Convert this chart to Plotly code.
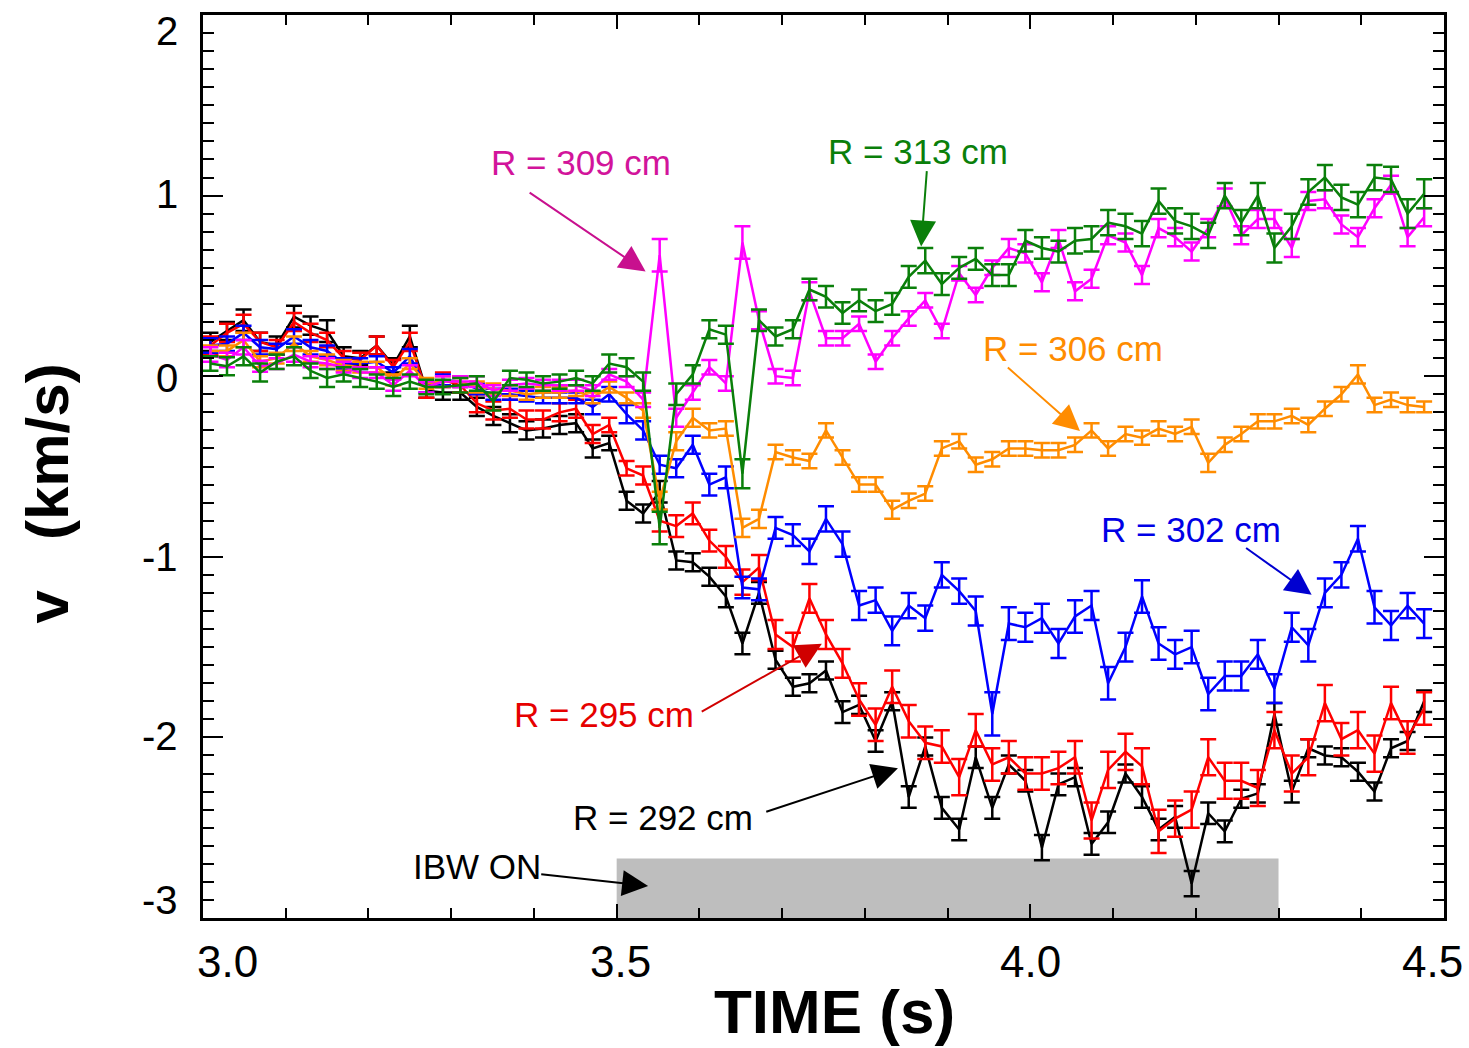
import plotly.graph_objects as go

# ---------------- data ----------------
time_s = [3.009, 3.029, 3.049, 3.069, 3.089, 3.110, 3.130, 3.150, 3.170, 3.190,
          3.210, 3.230, 3.250, 3.270, 3.290, 3.311, 3.331, 3.351, 3.371, 3.391,
          3.411, 3.431, 3.451, 3.471, 3.491, 3.512, 3.532, 3.552, 3.572, 3.592,
          3.612, 3.632, 3.652, 3.672, 3.692, 3.713, 3.733, 3.753, 3.773, 3.793,
          3.813, 3.833, 3.853, 3.873, 3.893, 3.914, 3.934, 3.954, 3.974, 3.994,
          4.014, 4.034, 4.054, 4.074, 4.094, 4.115, 4.135, 4.155, 4.175, 4.195,
          4.215, 4.235, 4.255, 4.275, 4.295, 4.316, 4.336, 4.356, 4.376, 4.396,
          4.416, 4.436, 4.456, 4.476]

v_292 = [0.19, 0.25, 0.31, 0.19, 0.17, 0.33, 0.28, 0.25, 0.11, 0.10, 0.17, 0.06, 0.22, -0.08,
         -0.09, -0.09, -0.17, -0.22, -0.26, -0.30, -0.29, -0.27, -0.26, -0.40, -0.37, -0.69, -0.76, -0.64,
         -1.02, -1.03, -1.11, -1.22, -1.48, -1.20, -1.57,
         -1.72, -1.70, -1.63, -1.86, -1.82, -2.02, -1.80, -2.33, -2.05, -2.39, -2.51, -2.11, -2.39, -2.15,
         -2.24, -2.61, -2.26, -2.22, -2.59,
         -2.47, -2.20, -2.33, -2.51, -2.44, -2.81, -2.42, -2.52, -2.34, -2.31, -1.87, -2.30, -2.06, -2.10,
         -2.11, -2.19, -2.30, -2.06, -2.02, -1.80]
e_292 = [0.05, 0.05, 0.06, 0.05, 0.05, 0.06, 0.05, 0.06, 0.05, 0.04, 0.05, 0.04, 0.06, 0.04,
         0.04, 0.04, 0.05, 0.05, 0.05, 0.05, 0.05, 0.05, 0.05, 0.05, 0.04, 0.05, 0.05, 0.06,
         0.05, 0.05, 0.05, 0.06, 0.06, 0.06, 0.05,
         0.05, 0.05, 0.05, 0.06, 0.05, 0.06, 0.05, 0.06, 0.05, 0.06, 0.06, 0.06, 0.06, 0.05, 0.06, 0.07,
         0.06, 0.05, 0.06,
         0.06, 0.05, 0.06, 0.06, 0.06, 0.07, 0.06, 0.06, 0.05, 0.05, 0.06, 0.06, 0.05, 0.05, 0.05, 0.05,
         0.05, 0.05, 0.05, 0.06]

v_295 = [0.17, 0.24, 0.29, 0.19, 0.16, 0.30, 0.24, 0.20, 0.10, 0.09, 0.17, 0.05, 0.19, -0.08,
         -0.02, -0.05, -0.15, -0.19, -0.18, -0.24, -0.24, -0.20, -0.18, -0.32, -0.27, -0.51, -0.55, -0.80,
         -0.83, -0.76, -0.91, -1.00, -1.14, -1.06, -1.43,
         -1.50, -1.23, -1.43, -1.59, -1.79, -1.93, -1.72, -1.91, -2.03, -2.05, -2.22, -1.96, -2.15, -2.11,
         -2.20, -2.20, -2.17, -2.11, -2.46,
         -2.18, -2.08, -2.16, -2.52, -2.45, -2.40, -2.11, -2.24, -2.24, -2.28, -1.96, -2.20, -2.11, -1.81,
         -2.01, -1.96, -2.09, -1.81, -2.00, -1.84]
e_295 = [0.05, 0.05, 0.05, 0.05, 0.04, 0.05, 0.05, 0.04, 0.04, 0.04, 0.05, 0.04, 0.05, 0.04,
         0.04, 0.04, 0.05, 0.05, 0.05, 0.05, 0.05, 0.05, 0.05, 0.05, 0.04, 0.04, 0.05, 0.06,
         0.06, 0.06, 0.06, 0.06, 0.07, 0.07, 0.08,
         0.08, 0.08, 0.08, 0.08, 0.09, 0.09, 0.09, 0.09, 0.09, 0.09, 0.10, 0.09, 0.09, 0.09, 0.09, 0.09,
         0.09, 0.09, 0.10,
         0.10, 0.10, 0.10, 0.12, 0.10, 0.10, 0.10, 0.10, 0.10, 0.10, 0.10, 0.10, 0.10, 0.10, 0.09, 0.10,
         0.10, 0.09, 0.09, 0.09]

v_302 = [0.17, 0.18, 0.24, 0.16, 0.15, 0.22, 0.16, 0.14, 0.07, 0.07, 0.08, 0.02, 0.11, -0.06,
         -0.02, -0.03, -0.07, -0.10, -0.10, -0.11, -0.12, -0.12, -0.12, -0.17, -0.10, -0.21, -0.30, -0.49,
         -0.51, -0.38, -0.60, -0.56, -1.17, -1.18, -0.84,
         -0.88, -0.97, -0.79, -0.93, -1.27, -1.24, -1.41, -1.27, -1.34, -1.10, -1.19, -1.30, -1.87, -1.37,
         -1.39, -1.34, -1.48, -1.33, -1.27,
         -1.70, -1.50, -1.22, -1.48, -1.54, -1.50, -1.76, -1.66, -1.66, -1.54, -1.73, -1.39, -1.49, -1.20,
         -1.10, -0.90, -1.28, -1.38, -1.27, -1.37]
e_302 = [0.04, 0.04, 0.04, 0.04, 0.03, 0.04, 0.04, 0.03, 0.03, 0.03, 0.03, 0.03, 0.04, 0.03,
         0.03, 0.03, 0.03, 0.03, 0.03, 0.03, 0.03, 0.03, 0.03, 0.04, 0.04, 0.05, 0.05, 0.05,
         0.05, 0.05, 0.06, 0.06, 0.06, 0.06, 0.06,
         0.06, 0.07, 0.07, 0.07, 0.08, 0.07, 0.08, 0.07, 0.07, 0.07, 0.07, 0.08, 0.12, 0.09, 0.08, 0.08,
         0.08, 0.09, 0.08,
         0.09, 0.08, 0.09, 0.09, 0.08, 0.09, 0.09, 0.08, 0.08, 0.08, 0.08, 0.08, 0.09, 0.08, 0.07, 0.07,
         0.09, 0.08, 0.07, 0.08]

v_306 = [0.14, 0.14, 0.20, 0.08, 0.10, 0.18, 0.11, 0.09, 0.06, 0.05, 0.05, -0.02, 0.07, -0.04,
         -0.03, -0.03, -0.06, -0.07, -0.08, -0.10, -0.09, -0.09, -0.08, -0.12, -0.06, -0.12, -0.19, -0.69,
         -0.36, -0.23, -0.30, -0.29, -0.84, -0.79, -0.42,
         -0.45, -0.47, -0.30, -0.45, -0.60, -0.60, -0.74, -0.69, -0.65, -0.40, -0.36, -0.49, -0.46, -0.40,
         -0.40, -0.41, -0.41, -0.38, -0.30,
         -0.40, -0.32, -0.34, -0.29, -0.32, -0.28, -0.48, -0.38, -0.32, -0.25, -0.25, -0.22, -0.27, -0.18,
         -0.10, 0.01, -0.16, -0.13, -0.16, -0.17]
e_306 = [0.03, 0.03, 0.04, 0.03, 0.03, 0.04, 0.03, 0.03, 0.03, 0.03, 0.03, 0.03, 0.03, 0.03,
         0.03, 0.03, 0.03, 0.03, 0.03, 0.03, 0.03, 0.03, 0.03, 0.03, 0.03, 0.03, 0.04, 0.05,
         0.05, 0.05, 0.04, 0.04, 0.05, 0.05, 0.04,
         0.04, 0.04, 0.04, 0.04, 0.04, 0.04, 0.05, 0.04, 0.04, 0.04, 0.04, 0.04, 0.04, 0.04, 0.04, 0.04,
         0.04, 0.04, 0.04,
         0.04, 0.04, 0.04, 0.04, 0.04, 0.04, 0.05, 0.04, 0.04, 0.04, 0.04, 0.04, 0.04, 0.04, 0.04, 0.05,
         0.04, 0.04, 0.04, 0.03]

v_309 = [0.12, 0.09, 0.16, 0.055, 0.07, 0.12, 0.08, 0.07, 0.05, 0.02, 0.02, -0.05, 0.03, -0.06,
         -0.03, -0.03, -0.03, -0.08, -0.05, -0.04, -0.05, -0.05, -0.05, -0.08, 0.01, -0.03, -0.13, 0.67,
         -0.23, -0.09, 0.05, -0.04, 0.74, 0.31, 0.00,
         -0.01, 0.47, 0.21, 0.21, 0.29, 0.08, 0.21, 0.32, 0.42, 0.25, 0.57, 0.45, 0.60, 0.71,
         0.68, 0.52, 0.76, 0.47, 0.54,
         0.78, 0.74, 0.56, 0.82, 0.77, 0.69, 0.82, 0.99, 0.78, 0.87, 0.87, 0.71, 0.97, 0.98,
         0.84, 0.77, 0.93, 1.06, 0.77, 0.88]
e_309 = [0.04, 0.04, 0.04, 0.03, 0.03, 0.04, 0.03, 0.03, 0.03, 0.03, 0.03, 0.03, 0.03, 0.03,
         0.03, 0.03, 0.03, 0.03, 0.03, 0.03, 0.03, 0.03, 0.03, 0.03, 0.03, 0.03, 0.04, 0.09,
         0.05, 0.04, 0.04, 0.04, 0.09, 0.05, 0.04,
         0.04, 0.05, 0.04, 0.04, 0.04, 0.04, 0.04, 0.04, 0.04, 0.04, 0.04, 0.04, 0.04, 0.05, 0.05, 0.05,
         0.05, 0.05, 0.05,
         0.05, 0.05, 0.05, 0.05, 0.05, 0.05, 0.05, 0.05, 0.05, 0.05, 0.05, 0.05, 0.05, 0.05, 0.05, 0.05,
         0.05, 0.05, 0.05, 0.05]

v_313 = [0.07, 0.055, 0.11, 0.02, 0.08, 0.11, 0.03, -0.01, 0.01, -0.01, -0.03, -0.06, -0.03, -0.06,
         -0.06, -0.05, -0.04, -0.14, -0.01, -0.02, -0.04, -0.03, -0.01, -0.04, 0.07, 0.05, -0.03, -0.84,
         -0.10, 0.01, 0.26, 0.23, -0.54, 0.31, 0.22,
         0.26, 0.48, 0.44, 0.35, 0.42, 0.36, 0.40, 0.55, 0.64, 0.51, 0.60, 0.65, 0.56, 0.56,
         0.75, 0.71, 0.69, 0.75, 0.76,
         0.85, 0.83, 0.79, 0.97, 0.86, 0.83, 0.78, 1.00, 0.85, 1.00, 0.71, 0.83, 1.02, 1.10,
         0.99, 0.95, 1.10, 1.09, 0.90, 1.01]
e_313 = [0.04, 0.05, 0.05, 0.05, 0.04, 0.05, 0.04, 0.05, 0.04, 0.05, 0.04, 0.05, 0.04, 0.04,
         0.04, 0.04, 0.04, 0.05, 0.04, 0.04, 0.04, 0.04, 0.04, 0.04, 0.05, 0.05, 0.05, 0.09,
         0.06, 0.05, 0.05, 0.05, 0.08, 0.06, 0.05,
         0.05, 0.06, 0.06, 0.06, 0.06, 0.06, 0.06, 0.06, 0.07, 0.06, 0.06, 0.06, 0.06, 0.06, 0.06, 0.06,
         0.06, 0.07, 0.07,
         0.07, 0.07, 0.07, 0.07, 0.07, 0.07, 0.07, 0.07, 0.07, 0.07, 0.08, 0.07, 0.07, 0.07, 0.07, 0.07,
         0.07, 0.07, 0.08, 0.08]

series_names = ["R = 292 cm", "R = 295 cm", "R = 302 cm", "R = 306 cm", "R = 309 cm", "R = 313 cm"]
series_vals = [v_292, v_295, v_302, v_306, v_309, v_313]
series_errs = [e_292, e_295, e_302, e_306, e_309, e_313]
series_colors = ["#000000", "#FF0000", "#0000FF", "#FF8C00", "#FF00FF", "#0A7F0A"]

for vals, errs in zip(series_vals, series_errs):
    assert len(vals) == len(time_s), (len(vals), len(time_s))
    assert len(errs) == len(time_s), (len(errs), len(time_s))

x_tick_vals = [3.0, 3.5, 4.0, 4.5]
x_tick_text = ["3.0", "3.5", "4.0", "4.5"]
x_label_pos = [3.030, 3.505, 4.000, 4.486]
y_tick_vals = [-3, -2, -1, 0, 1, 2]
y_tick_text = ["-3", "-2", "-1", "0", "1", "2"]
y_label_pos = [-2.90, -1.99, -1.00, -0.01, 1.01, 1.91]

ibw_start, ibw_end, ibw_top = 3.50, 4.30, -2.67

# label annotations: text, text position, arrow tail, arrow tip, text colour, arrow colour
labels = [
    ("R = 309 cm", (3.457, 1.182), (3.393, 1.022), (3.535, 0.580), "#D2149B", "#C8108E"),
    ("R = 313 cm", (3.864, 1.243), (3.875, 1.144), (3.868, 0.718), "#0A7F0A", "#0A7F0A"),
    ("R = 306 cm", (4.052, 0.155), (3.971, 0.055), (4.060, -0.304), "#FF8C00", "#FF8C00"),
    ("R = 302 cm", (4.194, -0.851), (4.259, -0.945), (4.340, -1.210), "#0000E6", "#0000D0"),
    ("R = 295 cm", (3.485, -1.873), (3.601, -1.862), (3.748, -1.481), "#E60000", "#D00000"),
    ("R = 292 cm", (3.556, -2.442), (3.679, -2.414), (3.840, -2.171), "#000000", "#000000"),
    ("IBW ON", (3.331, -2.713), (3.407, -2.757), (3.538, -2.823), "#000000", "#000000"),
]

FONT = "Liberation Sans, Arial, sans-serif"

fig = go.Figure()

for name, vals, errs, col in zip(series_names, series_vals, series_errs, series_colors):
    fig.add_trace(go.Scatter(
        x=time_s, y=vals, mode="lines", name=name,
        line=dict(color=col, width=2.5),
        error_y=dict(type="data", array=errs, symmetric=True, color=col,
                     thickness=2.5, width=8),
        showlegend=False,
    ))

fig.add_shape(type="rect", xref="x", yref="y",
              x0=ibw_start, x1=ibw_end, y0=-3, y1=ibw_top,
              fillcolor="#BEBEBE", line=dict(width=0), layer="below")

annotations = []
for txt, tpos, tail, tip, tcol, acol in labels:
    annotations.append(dict(x=tpos[0], y=tpos[1], xref="x", yref="y", text=txt,
                            showarrow=False, font=dict(family=FONT, size=35, color=tcol),
                            xanchor="center", yanchor="middle"))
    annotations.append(dict(x=tip[0], y=tip[1], xref="x", yref="y", text="",
                            showarrow=True, ax=tail[0], ay=tail[1], axref="x", ayref="y",
                            arrowhead=2, arrowsize=2.6, arrowwidth=2, arrowcolor=acol,
                            standoff=0, startstandoff=0))

for pos, txt in zip(x_label_pos, x_tick_text):
    annotations.append(dict(x=pos, y=-0.048, xref="x", yref="paper", text=txt,
                            showarrow=False, font=dict(family=FONT, size=44, color="black"),
                            xanchor="center", yanchor="middle"))
for pos, txt in zip(y_label_pos, y_tick_text):
    annotations.append(dict(x=-0.0185, y=pos, xref="paper", yref="y", text=txt,
                            showarrow=False, font=dict(family=FONT, size=40, color="black"),
                            xanchor="right", yanchor="middle"))

annotations.append(dict(x=0.509, y=-0.104, xref="paper", yref="paper", text="<b>TIME (s)</b>",
                        showarrow=False, font=dict(family=FONT, size=62, color="black"),
                        xanchor="center", yanchor="middle"))
annotations.append(dict(x=-0.125, y=0.47, xref="paper", yref="paper", text="<b>v   (km/s)</b>",
                        showarrow=False, textangle=-90,
                        font=dict(family=FONT, size=60, color="black"),
                        xanchor="center", yanchor="middle"))

fig.update_layout(
    width=1469, height=1048,
    margin=dict(l=203, r=25, t=13, b=130),
    paper_bgcolor="white", plot_bgcolor="white",
    font=dict(family=FONT, color="black"),
    showlegend=False,
    annotations=annotations,
    xaxis=dict(range=[3.0, 4.5], tickvals=x_tick_vals, ticktext=x_tick_text, showticklabels=False,
               ticks="inside", ticklen=14, tickwidth=2, tickcolor="black",
               minor=dict(dtick=0.1, tick0=3.0, ticks="inside", ticklen=10, tickwidth=2, tickcolor="black"),
               showline=True, linecolor="black", linewidth=2.5, mirror="ticks",
               showgrid=False, zeroline=False),
    yaxis=dict(range=[-3, 2], tickvals=y_tick_vals, ticktext=y_tick_text, showticklabels=False,
               ticks="inside", ticklen=20, tickwidth=2, tickcolor="black",
               minor=dict(dtick=0.1, tick0=0, ticks="inside", ticklen=11, tickwidth=2, tickcolor="black"),
               showline=True, linecolor="black", linewidth=2.5, mirror="ticks",
               showgrid=False, zeroline=False),
)

fig.write_html("out.html")
